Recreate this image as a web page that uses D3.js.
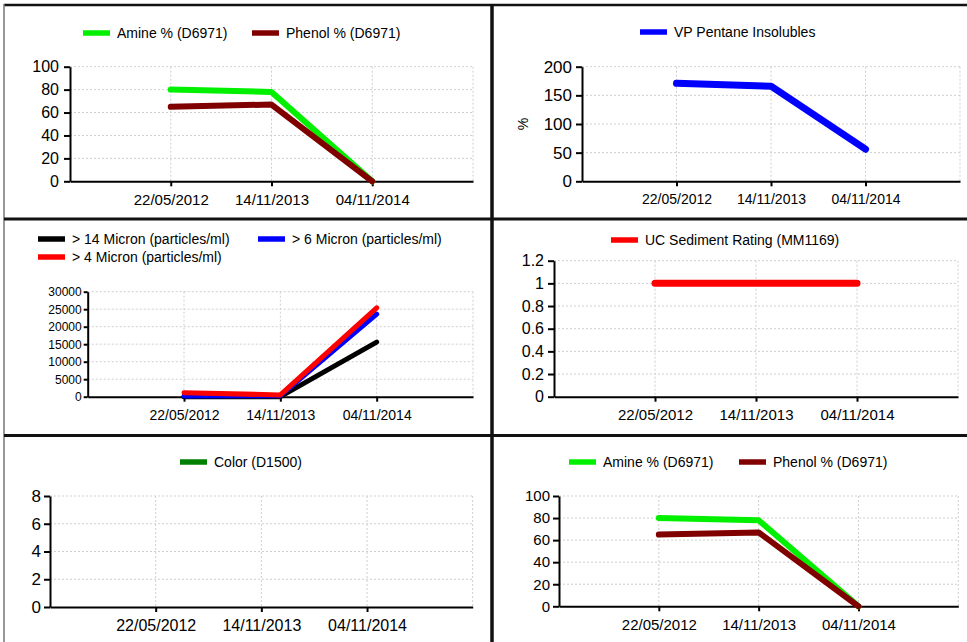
<!DOCTYPE html>
<html>
<head>
<meta charset="utf-8">
<script src="https://cdn.jsdelivr.net/npm/d3@7"></script>
<style>
  body { margin: 0; background: #fff; }
  text { font-family: "Liberation Sans", Arial, sans-serif; fill: #000; }
</style>
</head>
<body>
<div id="graph"></div>
<script>
// data
var dates = ["22/05/2012", "14/11/2013", "04/11/2014"];
var amine = [80, 78, 0];
var phenol = [65, 67, 0];
var pentane = [171, 166, 56];
var micron14 = [0, 0, 15600];
var micron6 = [200, 300, 23600];
var micron4 = [1150, 500, 25400];
var sediment = [1, 1, 1];
var color = [null, null, null];

var ticksAmine = [0, 20, 40, 60, 80, 100];
var ticksPentane = [0, 50, 100, 150, 200];
var ticksMicron = [0, 5000, 10000, 15000, 20000, 25000, 30000];
var ticksSediment = [0, 0.2, 0.4, 0.6, 0.8, 1, 1.2];
var ticksColor = [0, 2, 4, 6, 8];

var W = 967, H = 642;

var svg = d3.select("#graph").append("svg")
    .attr("width", W)
    .attr("height", H);

// panel frame
var frame = svg.append("g");
frame.append("line").attr("x1", 4).attr("x2", W).attr("y1", 5).attr("y2", 5)
    .attr("stroke", "#111").attr("stroke-width", 2.5);
frame.append("line").attr("x1", 4).attr("x2", 4).attr("y1", 4).attr("y2", H)
    .attr("stroke", "#777").attr("stroke-width", 1.5);
frame.append("line").attr("x1", 492).attr("x2", 492).attr("y1", 4).attr("y2", H)
    .attr("stroke", "#111").attr("stroke-width", 3.5);
[219, 435.5].forEach(function(y) {
  frame.append("line").attr("x1", 4).attr("x2", W).attr("y1", y).attr("y2", y)
      .attr("stroke", "#111").attr("stroke-width", 3);
});

var panels = [
  { x0: 70, x1: 473, y0: 181.3, y1: 66.7, max: 100, ticks: ticksAmine,
    yFont: 16, xFont: 15, tick: 6, pad: 5,
    series: [{ name: "Amine % (D6971)", values: amine, color: "#00f000" },
             { name: "Phenol % (D6971)", values: phenol, color: "#800000" }],
    legend: [{ x: 83, y: 33 }, { x: 252, y: 33 }] },
  { x0: 582, x1: 960, y0: 181.3, y1: 66.7, max: 200, ticks: ticksPentane,
    yFont: 17, xFont: 14, tick: 6, pad: 4, yLabel: "%", yLabelX: 523,
    series: [{ name: "VP Pentane Insolubles", values: pentane, color: "#0000ff", width: 7 }],
    legend: [{ x: 640, y: 32 }] },
  { x0: 87.7, x1: 473, y0: 396.7, y1: 291.7, max: 30000, ticks: ticksMicron,
    yFont: 12, xFont: 14, tick: 4, pad: 2, width: 5,
    series: [{ name: "> 14 Micron (particles/ml)", values: micron14, color: "#000000" },
             { name: "> 6 Micron (particles/ml)", values: micron6, color: "#0000ff" },
             { name: "> 4 Micron (particles/ml)", values: micron4, color: "#ff0000" }],
    legend: [{ x: 38, y: 239 }, { x: 258, y: 239 }, { x: 38, y: 257 }] },
  { x0: 554, x1: 958, y0: 396.7, y1: 260.7, max: 1.2, ticks: ticksSediment,
    yFont: 16, xFont: 15, tick: 6, pad: 4,
    series: [{ name: "UC Sediment Rating (MM1169)", values: sediment, color: "#ff0000", width: 7 }],
    legend: [{ x: 611, y: 240 }] },
  { x0: 50, x1: 472.7, y0: 607, y1: 496, max: 8, ticks: ticksColor,
    yFont: 17, xFont: 16, tick: 6, pad: 3,
    series: [{ name: "Color (D1500)", values: color, color: "#008000" }],
    legend: [{ x: 180, y: 462 }] },
  { x0: 559, x1: 958.3, y0: 606.3, y1: 496, max: 100, ticks: ticksAmine,
    yFont: 15, xFont: 15, tick: 6, pad: 3,
    series: [{ name: "Amine % (D6971)", values: amine, color: "#00f000" },
             { name: "Phenol % (D6971)", values: phenol, color: "#800000" }],
    legend: [{ x: 569, y: 462 }, { x: 739, y: 462 }] }
];

panels.forEach(function(p) {
  var g = svg.append("g");

  var x = d3.scalePoint().domain(dates).range([p.x0, p.x1]).padding(1);
  var y = d3.scaleLinear().domain([0, p.max]).range([p.y0, p.y1]);

  // dotted grid
  g.selectAll(".hgrid").data(p.ticks.slice(1)).enter().append("line")
      .attr("x1", p.x0).attr("x2", p.x1)
      .attr("y1", function(d) { return y(d); }).attr("y2", function(d) { return y(d); })
      .attr("stroke", "#cfcfcf").attr("stroke-dasharray", "2,2");
  g.selectAll(".vgrid").data(dates).enter().append("line")
      .attr("x1", function(d) { return x(d); }).attr("x2", function(d) { return x(d); })
      .attr("y1", p.y1).attr("y2", p.y0)
      .attr("stroke", "#cfcfcf").attr("stroke-dasharray", "2,2");
  g.append("line").attr("x1", p.x1).attr("x2", p.x1).attr("y1", p.y1).attr("y2", p.y0)
      .attr("stroke", "#cfcfcf").attr("stroke-dasharray", "2,2");

  // axes
  var ya = g.append("g")
      .attr("transform", "translate(" + p.x0 + ",0)")
      .call(d3.axisLeft(y).tickValues(p.ticks).tickSize(p.tick).tickSizeOuter(0).tickPadding(p.pad)
        .tickFormat(function(d) { return String(d); }));
  ya.selectAll("text").style("font-size", p.yFont + "px").attr("font-family", null);

  var xa = g.append("g")
      .attr("transform", "translate(0," + p.y0 + ")")
      .call(d3.axisBottom(x).tickSize(5).tickSizeOuter(0).tickPadding(8));
  xa.selectAll("text").style("font-size", p.xFont + "px").attr("font-family", null);

  [ya, xa].forEach(function(a) {
    a.selectAll("path, line").attr("stroke", "#000").attr("stroke-width", 2);
  });

  if (p.yLabel) {
    g.append("text")
        .attr("transform", "translate(" + p.yLabelX + "," + ((p.y0 + p.y1) / 2) + ") rotate(-90)")
        .attr("text-anchor", "middle")
        .attr("dy", "0.35em")
        .style("font-size", "14px")
        .text(p.yLabel);
  }

  // lines
  var line = d3.line()
      .defined(function(d) { return d != null; })
      .x(function(d, i) { return x(dates[i]); })
      .y(function(d) { return y(d); });

  p.series.forEach(function(s, i) {
    g.append("path")
        .datum(s.values)
        .attr("d", line)
        .attr("fill", "none")
        .attr("stroke", s.color)
        .attr("stroke-width", s.width || p.width || 6)
        .attr("stroke-linecap", "round")
        .attr("stroke-linejoin", "round");

    var L = p.legend[i];
    g.append("line")
        .attr("x1", L.x).attr("x2", L.x + 27)
        .attr("y1", L.y).attr("y2", L.y)
        .attr("stroke", s.color).attr("stroke-width", 5.5);
    g.append("text")
        .attr("x", L.x + 34).attr("y", L.y)
        .attr("dy", "0.35em")
        .style("font-size", "14px")
        .text(s.name);
  });
});
</script>
</body>
</html>
